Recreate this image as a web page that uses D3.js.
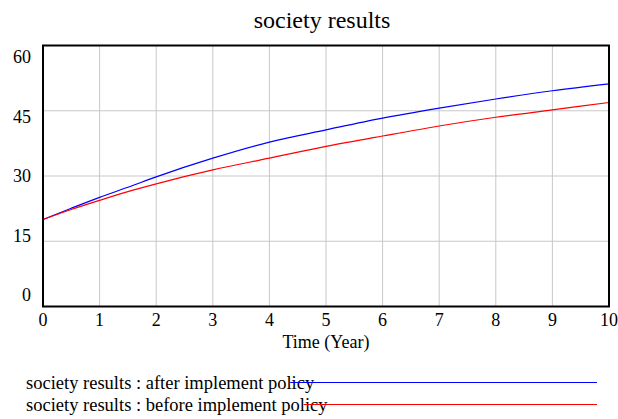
<!DOCTYPE html>
<html><head><meta charset="utf-8">
<script src="https://cdn.jsdelivr.net/npm/d3@7"></script>
<style>body{margin:0;background:#fff}svg{display:block}text{font-family:"Liberation Serif","Times New Roman",serif;fill:#000}</style>
</head><body><svg id="c" width="618" height="419"></svg>
<script>
const title = "society results";
const xLabel = "Time (Year)";
const times = [0,0.5,1,1.5,2,3,4,5,6,7,8,9,10];
const afterPolicy = [20,22.6,25.1,27.4,29.8,34.1,37.8,40.6,43.3,45.6,47.7,49.6,51.2];
const beforePolicy = [20,22.3,24.4,26.4,28.2,31.4,34.1,36.8,39.2,41.5,43.5,45.2,46.9];
const xTicks = [0,1,2,3,4,5,6,7,8,9,10];
const yTicks = [0,15,30,45,60];
const seriesNames = ["society results : after implement policy","society results : before implement policy"];
const seriesColors = ["#0000ff","#ff0000"];

const svg = d3.select("#c");
const L=43,R=609,T=45.5,B=306.5;
const x = d3.scaleLinear().domain([0,10]).range([L,R]);
const y = d3.scaleLinear().domain([0,60]).range([B,T]);
const yLab = d3.scaleLinear().domain([0,60]).range([295,57]);

svg.append("g").selectAll("line").data(xTicks.filter(d=>d>0&&d<10)).join("line")
  .attr("x1",d=>x(d)).attr("x2",d=>x(d)).attr("y1",T).attr("y2",B)
  .attr("stroke","#c8c8c8").attr("stroke-width",1);
svg.append("g").selectAll("line").data(yTicks.filter(d=>d>0&&d<60)).join("line")
  .attr("x1",L).attr("x2",R).attr("y1",d=>y(d)).attr("y2",d=>y(d))
  .attr("stroke","#c8c8c8").attr("stroke-width",1);

const line = d3.line().x((d,i)=>x(times[i])).y(d=>y(d)).curve(d3.curveMonotoneX);
[afterPolicy,beforePolicy].forEach((s,k)=>{
  svg.append("path").datum(s).attr("d",line).attr("fill","none")
    .attr("stroke",seriesColors[k]).attr("stroke-width",1.2);
});

svg.append("rect").attr("x",L).attr("y",T).attr("width",R-L).attr("height",B-T)
  .attr("fill","none").attr("stroke","#000").attr("stroke-width",2);

svg.append("g").selectAll("text").data(xTicks).join("text")
  .attr("x",d=>x(d)).attr("y",326).attr("text-anchor","middle")
  .attr("font-size",18).text(d=>d);
svg.append("g").selectAll("text").data(yTicks).join("text")
  .attr("x",31).attr("y",d=>yLab(d)).attr("dy","0.35em").attr("text-anchor","end")
  .attr("font-size",18).text(d=>d);

svg.append("text").attr("x",322).attr("y",28).attr("text-anchor","middle")
  .attr("font-size",24).text(title);
svg.append("text").attr("x",326).attr("y",348).attr("text-anchor","middle")
  .attr("font-size",18).text(xLabel);

seriesNames.forEach((n,k)=>{
  const yy = 382.5 + k*22;
  const t = svg.append("text").attr("x",26).attr("y",yy).attr("dy","0.33em")
    .attr("font-size",18.5).text(n);
  const w = t.node().getComputedTextLength();
  svg.append("line").attr("x1",26+w-24).attr("x2",597).attr("y1",yy).attr("y2",yy)
    .attr("stroke",seriesColors[k]).attr("stroke-width",1.2);
});
</script></body></html>
